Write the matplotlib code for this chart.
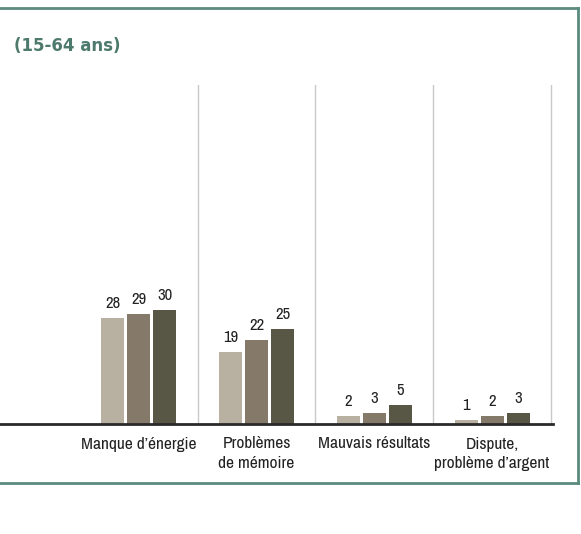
import matplotlib.pyplot as plt
from matplotlib.lines import Line2D
from matplotlib import font_manager
import numpy as np

categories = ["Manque d\u2019énergie", "Problèmes\nde mémoire", "Mauvais résultats", "Dispute,\nproblème d\u2019argent"]
serie_1 = [28, 19, 2, 1]
serie_2 = [29, 22, 3, 2]
serie_3 = [30, 25, 5, 3]
couleurs = ["#b8b0a0", "#857a69", "#585645"]
titre = "(15-64 ans)"

# police étroite si disponible
noms = sorted({f.name for f in font_manager.fontManager.ttflist})
etroites = [n for n in noms if "Condensed" in n or "Narrow" in n]
etirement = "normal"
police = "DejaVu Sans"
if etroites:
    police = etroites[0]
else:
    condensees = [f for f in font_manager.fontManager.ttflist
                  if f.name == "DejaVu Sans" and f.stretch == "condensed"]
    if condensees:
        etirement = "condensed"
plt.rcParams['font.family'] = [police, 'DejaVu Sans']
plt.rcParams['font.stretch'] = etirement

W, H = 581, 534
fig = plt.figure(figsize=(W / 100, H / 100), dpi=100)

# axes: gauche 0 px, droite 551 px, base 424 px, haut 85 px
ax = fig.add_axes([0, (H - 424) / H, 553 / W, (424 - 85) / H])
x = np.arange(len(categories))
largeur = 0.195
decalage = 0.22

for i, (vals, c) in enumerate(zip([serie_1, serie_2, serie_3], couleurs)):
    pos = x + (i - 1) * decalage
    ax.bar(pos, vals, width=largeur, color=c, zorder=2)
    for p, v in zip(pos, vals):
        ax.annotate(str(v), (p, v), xytext=(0, 5), textcoords="offset points",
                    ha="center", va="bottom", fontsize=12, color="#222222")

for g in x + 0.5:
    ax.axvline(g, color="#c9c9c9", lw=1, zorder=1)

ax.set_xlim(-139 / 118, 3.5 + 2 / 118)
ax.set_ylim(0, 339 / 3.8)
ax.set_xticks(x)
ax.set_xticklabels(categories, fontsize=12.5, color="#222222", linespacing=1.4)
ax.tick_params(axis="x", length=0, pad=9)
ax.set_yticks([])
for s in ["top", "right", "left"]:
    ax.spines[s].set_visible(False)
ax.spines["bottom"].set_color("#2a2a2a")
ax.spines["bottom"].set_linewidth(2)
ax.patch.set_alpha(0)

# Cadre
teal = "#5b8a7f"
fig.add_artist(Line2D([0, 578 / W], [1 - 8 / H, 1 - 8 / H], color=teal, lw=2))
fig.add_artist(Line2D([578 / W, 578 / W], [1 - 8 / H, 1 - 483 / H], color=teal, lw=2))
fig.add_artist(Line2D([0, 578 / W], [1 - 483 / H, 1 - 483 / H], color=teal, lw=2))

fig.text(14 / W, 1 - 46 / H, titre, fontsize=12, fontweight="bold", color="#4d7a6d",
         ha="left", va="center", family=['DejaVu Sans'], stretch="normal")

plt.savefig("out.png", dpi=100)
